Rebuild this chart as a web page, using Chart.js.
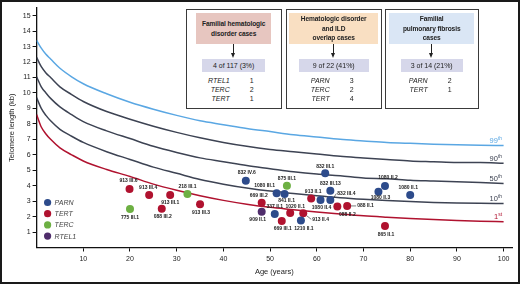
<!DOCTYPE html>
<html>
<head>
<meta charset="utf-8">
<script src="https://cdn.jsdelivr.net/npm/chart.js@4.4.1/dist/chart.umd.min.js"></script>
<style>
  html, body { margin: 0; padding: 0; background: #fff; }
  #wrap { position: relative; width: 520px; height: 284px; font-family: 'Liberation Sans', Arial, sans-serif; color: #222; }
  #frame { position: absolute; left: 0; top: 0; width: 520px; height: 284px; box-sizing: border-box; border: 2px solid #1a1a1a; pointer-events: none; }
  .box { position: absolute; top: 9px; height: 100px; box-sizing: border-box; border: 1.3px solid #3a3a3a; background: #fff; }
  .head { position: absolute; top: 3px; height: 31px; display: flex; align-items: center; justify-content: center; text-align: center; font-weight: bold; font-size: 6.6px; line-height: 9.5px; letter-spacing: -0.1px; }
  .stem { position: absolute; top: 34px; width: 1px; height: 10px; background: #222; }
  .tip { position: absolute; top: 43px; width: 0; height: 0; border-left: 2.5px solid transparent; border-right: 2.5px solid transparent; border-top: 5px solid #222; }
  .count { position: absolute; top: 49px; height: 13px; background: #d6d7ea; font-size: 7px; line-height: 13px; text-align: center; }
  .genes { position: absolute; top: 66px; left: 0; width: 100%; font-size: 7px; line-height: 9px; }
  .row { position: relative; height: 9px; }
  .row .g { position: absolute; text-align: right; font-style: italic; }
  .row .n { position: absolute; }
</style>
</head>
<body>
<div id="wrap">
  <canvas id="chart" width="520" height="284"></canvas>
  <div id="boxes"></div>
  <div id="frame"></div>
</div>
<script>
// percentile curves, read along the age axis
const ageGrid = [0, 1, 2, 3, 5, 7.5, 10, 15, 20, 25, 30, 35, 40, 45, 50, 55, 60, 65, 70, 75, 80, 85, 90, 95, 100];
const p99 = [13.4, 12.9, 12.5, 12.2, 11.6, 11.05, 10.6, 9.95, 9.4, 8.95, 8.55, 8.2, 7.95, 7.7, 7.5, 7.3, 7.15, 7.0, 6.9, 6.8, 6.74, 6.69, 6.65, 6.62, 6.6];
const p90 = [12.3, 11.7, 11.3, 11.0, 10.4, 9.9, 9.45, 8.8, 8.3, 7.85, 7.45, 7.1, 6.8, 6.55, 6.35, 6.2, 6.05, 5.9, 5.8, 5.7, 5.6, 5.55, 5.5, 5.5, 5.45];
const p50 = [11.05, 10.4, 10.0, 9.65, 9.1, 8.6, 8.15, 7.55, 7.05, 6.55, 6.15, 5.8, 5.55, 5.3, 5.1, 4.9, 4.75, 4.65, 4.5, 4.45, 4.35, 4.3, 4.25, 4.2, 4.15];
const p10 = [9.7, 9.0, 8.55, 8.2, 7.65, 7.2, 6.8, 6.2, 5.7, 5.2, 4.8, 4.4, 4.1, 3.85, 3.65, 3.5, 3.35, 3.22, 3.12, 3.04, 2.97, 2.92, 2.88, 2.86, 2.85];
const p1 = [8.6, 7.8, 7.35, 7.0, 6.45, 6.0, 5.6, 5.05, 4.6, 4.1, 3.7, 3.35, 3.05, 2.8, 2.6, 2.45, 2.3, 2.17, 2.05, 1.96, 1.88, 1.81, 1.75, 1.7, 1.67];
const pctNames = ['99th', '90th', '50th', '10th', '1st'];

// patients by gene
const parnIds = ['832 IV.6', '1080 III.1', '841 II.1', '337 II.1', '1210 II.1', '832 III.1', '832 III.13', '1080 II.4', '832 III.4', '1080 II.3', '1080 II.2', '1080 II.1'];
const parnAge = [44.8, 51.4, 53.1, 51.0, 56.6, 61.8, 62.9, 60.8, 62.9, 73.2, 74.6, 80.0];
const parnTL = [4.32, 3.51, 3.46, 2.17, 1.75, 4.80, 3.68, 3.07, 3.07, 3.61, 3.98, 3.40];

const tertIds = ['913 III.6', '913 III.4', '913 III.1', '088 III.2', '913 III.3', '669 III.2', '669 III.1', '1020 II.1', '913 II.4', '913 II.1', '088 II.2', '088 II.1', '865 II.1'];
const tertAge = [19.9, 24.1, 28.6, 26.8, 35.0, 48.2, 52.5, 54.3, 57.1, 58.8, 64.4, 66.5, 74.6];
const tertTL = [3.79, 3.40, 3.40, 2.51, 2.80, 2.90, 1.72, 2.23, 2.21, 3.17, 2.65, 2.69, 1.39];

const tercIds = ['775 III.1', '218 III.1', '875 III.1'];
const tercAge = [20.0, 32.3, 53.6];
const tercTL = [2.49, 3.46, 4.00];

const rtelIds = ['909 II.1'];
const rtelAge = [48.2];
const rtelTL = [2.32];

const xTicks = [10, 20, 30, 40, 50, 60, 70, 80, 90, 100];
const yTicks = [1, 2, 3, 4, 5, 6, 7, 8, 9, 10, 11, 12, 13, 14, 15];

// summary boxes
const boxTitles = [['Familial hematologic', 'disorder cases'], ['Hematologic disorder', 'and ILD', 'overlap cases'], ['Familial', 'pulmonary fibrosis', 'cases']];
const boxCounts = ['4 of 117 (3%)', '9 of 22 (41%)', '3 of 14 (21%)'];
const boxGenes = [[['RTEL1', 1], ['TERC', 2], ['TERT', 1]], [['PARN', 3], ['TERC', 2], ['TERT', 4]], [['PARN', 2], ['TERT', 1]]];

// label placement around each dot: [dx, dy, leader]
const labelOffsets = {
  '913 III.6': [-1, -8], '913 III.4': [-1, -7], '913 III.1': [0, 7.5], '088 III.2': [1, 8], '913 III.3': [1, 8],
  '218 III.1': [0, -7], '775 III.1': [0, 8.5], '832 IV.6': [1, -8], '875 III.1': [0, -7.5],
  '1080 III.1': [-12, -7.5], '841 II.1': [2, 7], '669 III.2': [-3, -7], '909 II.1': [-4, 8],
  '337 II.1': [0, -7], '669 III.1': [1, 8], '1020 II.1': [5, -6.5], '913 II.4': [9, 6, true],
  '1210 II.1': [3, 8], '913 II.1': [2, -7], '832 III.1': [0, -7], '832 III.13': [0, -7],
  '1080 II.4': [1, 7.5], '832 III.4': [7, -6.5, true], '088 II.2': [10, 8], '088 II.1': [10, 0, true],
  '1080 II.3': [2, 6], '1080 II.2': [3, -8], '1080 II.1': [-2, -7], '865 II.1': [1, 9]
};

const toXY = (xs, ys) => xs.map((x, i) => ({ x, y: ys[i] }));

const narrow = '"Liberation Sans Narrow", "Liberation Sans", Arial, sans-serif';

function pointSet(label, color, ids, ages, tls) {
  return {
    type: 'scatter', label, ids,
    data: toXY(ages, tls),
    backgroundColor: color, borderColor: color, borderWidth: 0,
    pointRadius: 4, pointHoverRadius: 4
  };
}
function curveSet(label, color, ys) {
  return {
    type: 'line', label, pct: true,
    data: toXY(ageGrid, ys),
    borderColor: color, borderWidth: 1.5,
    pointRadius: 0, fill: false, cubicInterpolationMode: 'monotone'
  };
}

const curveColors = ['#5aa7e3', '#3d4353', '#3d4353', '#3d4353', '#b0122f'];

const datasets = [
  pointSet('PARN', '#2d4b8b', parnIds, parnAge, parnTL),
  pointSet('TERT', '#b0122f', tertIds, tertAge, tertTL),
  pointSet('TERC', '#6db043', tercIds, tercAge, tercTL),
  pointSet('RTEL1', '#4f2d6b', rtelIds, rtelAge, rtelTL),
  curveSet(pctNames[0], curveColors[0], p99),
  curveSet(pctNames[1], curveColors[1], p90),
  curveSet(pctNames[2], curveColors[2], p50),
  curveSet(pctNames[3], curveColors[3], p10),
  curveSet(pctNames[4], curveColors[4], p1)
];

// dot labels, legend and percentile tags
const decorPlugin = {
  id: 'decor',
  afterDatasetsDraw(chart) {
    const ctx = chart.ctx;
    const area = chart.chartArea;
    ctx.save();

    // point labels
    ctx.font = 'bold 5px ' + narrow;
    ctx.fillStyle = '#222';
    ctx.strokeStyle = '#222';
    ctx.lineWidth = 0.6;
    ctx.textBaseline = 'middle';
    chart.data.datasets.forEach((ds, i) => {
      if (!ds.ids) return;
      chart.getDatasetMeta(i).data.forEach((pt, j) => {
        const id = ds.ids[j];
        const off = labelOffsets[id] || [0, -7];
        const lx = pt.x + off[0], ly = pt.y + off[1];
        if (off[2]) {
          ctx.beginPath();
          ctx.moveTo(pt.x + 3.5, pt.y + off[1] * 0.4);
          ctx.lineTo(lx - 1, ly);
          ctx.stroke();
          ctx.textAlign = 'left';
        } else {
          ctx.textAlign = 'center';
        }
        ctx.fillText(id, lx, ly);
      });
    });

    // gene legend
    let ly = area.bottom - 45;
    chart.data.datasets.forEach(ds => {
      if (!ds.ids) return;
      ctx.fillStyle = ds.backgroundColor;
      ctx.beginPath();
      ctx.arc(area.left + 11, ly, 3.6, 0, Math.PI * 2);
      ctx.fill();
      ctx.fillStyle = '#444';
      ctx.font = 'italic 7px "Liberation Sans", Arial, sans-serif';
      ctx.textAlign = 'left';
      ctx.fillText(ds.label, area.left + 18, ly + 0.5);
      ly += 11.2;
    });

    // percentile tags at the right end
    const xs = chart.scales.x;
    const ys = chart.scales.y;
    chart.data.datasets.forEach(ds => {
      if (!ds.pct) return;
      const last = ds.data[ds.data.length - 1];
      const xr = xs.getPixelForValue(last.x) - 1.5;
      const yl = ys.getPixelForValue(last.y) - 2.5;
      const main = ds.label.slice(0, -2), sup = ds.label.slice(-2);
      ctx.fillStyle = ds.borderColor;
      ctx.textBaseline = 'alphabetic';
      ctx.textAlign = 'left';
      ctx.font = '5px "Liberation Sans", Arial, sans-serif';
      const w2 = ctx.measureText(sup).width;
      ctx.font = '7.5px "Liberation Sans", Arial, sans-serif';
      const w1 = ctx.measureText(main).width;
      ctx.fillText(main, xr - w1 - w2, yl);
      ctx.font = '5px "Liberation Sans", Arial, sans-serif';
      ctx.fillText(sup, xr - w2, yl - 3);
    });
    ctx.restore();
  }
};

const axisFont = { family: '"Liberation Sans", Arial, sans-serif', size: 7 };

new Chart(document.getElementById('chart'), {
  data: { datasets },
  plugins: [decorPlugin],
  options: {
    responsive: false,
    animation: false,
    layout: { padding: { left: 0, right: 8, top: 8, bottom: 0 } },
    plugins: { legend: { display: false }, tooltip: { enabled: false } },
    scales: {
      x: {
        type: 'linear', min: 0, max: 101.8,
        afterBuildTicks: s => { s.ticks = xTicks.map(v => ({ value: v })); },
        afterFit: s => { s.height = 36.5; },
        ticks: { font: axisFont, color: '#222', padding: 3, maxRotation: 0 },
        grid: { drawOnChartArea: false, tickLength: 4, color: '#111', lineWidth: 1 },
        border: { color: '#111', width: 1.3 },
        title: { display: true, text: 'Age (years)', color: '#222', font: { family: narrow, size: 7.5 }, padding: { top: 0, bottom: 8 } }
      },
      y: {
        type: 'linear', min: 0, max: 15.5,
        afterBuildTicks: s => { s.ticks = yTicks.map(v => ({ value: v })); },
        afterFit: s => { s.width = 36.6; },
        ticks: { font: axisFont, color: '#222', padding: 2 },
        grid: { drawOnChartArea: false, tickLength: 4, color: '#111', lineWidth: 1 },
        border: { color: '#111', width: 1.3 },
        title: { display: true, text: 'Telomere length (kb)', color: '#222', font: { family: narrow, size: 7.5 }, padding: { top: 7, bottom: 0 } }
      }
    }
  }
});

// summary boxes over the plot
const boxLeft = [186, 286, 385];
const boxWidth = [96, 96, 94];
const headInset = [9, 2, 3];
const headColor = ['#e7c6c0', '#f9dfc2', '#dae6f5'];
const countWidth = [63, 70, 62];
const holder = document.getElementById('boxes');
boxTitles.forEach((lines, k) => {
  const w = boxWidth[k];
  const b = document.createElement('div');
  b.className = 'box';
  b.style.left = boxLeft[k] + 'px';
  b.style.width = w + 'px';
  let html = `<div class="head" style="left:${headInset[k]}px;width:${w - 2 * headInset[k] - 2.6}px;background:${headColor[k]}"><div>${lines.join('<br>')}</div></div>`;
  const c = (w - 2.6) / 2;
  html += `<div class="stem" style="left:${c - 0.5}px"></div><div class="tip" style="left:${c - 2.5}px"></div>`;
  html += `<div class="count" style="left:${c - countWidth[k] / 2}px;width:${countWidth[k]}px">${boxCounts[k]}</div>`;
  html += '<div class="genes">' + boxGenes[k].map(([g, n]) =>
    `<div class="row"><span class="g" style="left:0;width:${c - 4}px">${g}</span><span class="n" style="left:${c + 16}px">${n}</span></div>`).join('') + '</div>';
  b.innerHTML = html;
  holder.appendChild(b);
});
</script>
</body>
</html>
